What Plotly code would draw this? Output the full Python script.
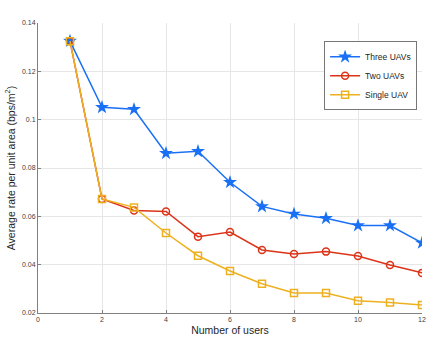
import plotly.graph_objects as go

users = [1, 2, 3, 4, 5, 6, 7, 8, 9, 10, 11, 12]
three_uavs = [0.1325, 0.1051, 0.1043, 0.0861, 0.0869, 0.0741, 0.0641, 0.0610, 0.0592, 0.0562, 0.0562, 0.0490]
two_uavs = [0.1325, 0.0672, 0.0624, 0.0620, 0.0516, 0.0535, 0.0461, 0.0444, 0.0454, 0.0436, 0.0399, 0.0366]
single_uav = [0.1325, 0.0672, 0.0637, 0.0531, 0.0437, 0.0374, 0.0321, 0.0283, 0.0283, 0.0251, 0.0243, 0.0233]

x_ticks = [0, 2, 4, 6, 8, 10, 12]
y_ticks = [0.02, 0.04, 0.06, 0.08, 0.1, 0.12, 0.14]
y_labels = ['0.02', '0.04', '0.06', '0.08', '0.1', '0.12', '0.14']

BLUE = '#1a70f5'
RED = '#dc3418'
YELLOW = '#edb120'

fig = go.Figure()
fig.add_trace(go.Scatter(x=users, y=three_uavs, mode='lines+markers', name='Three UAVs',
                         line=dict(color=BLUE, width=1.5),
                         marker=dict(symbol='star', size=10.5, color=BLUE)))
fig.add_trace(go.Scatter(x=users, y=two_uavs, mode='lines+markers', name='Two UAVs',
                         line=dict(color=RED, width=1.5),
                         marker=dict(symbol='circle-open', size=7, color=RED, line=dict(width=1.5))))
fig.add_trace(go.Scatter(x=users, y=single_uav, mode='lines+markers', name='Single UAV',
                         line=dict(color=YELLOW, width=1.5),
                         marker=dict(symbol='square-open', size=7, color=YELLOW, line=dict(width=1.5))))

fig.update_layout(
    width=443, height=347,
    margin=dict(l=38, r=21, t=23, b=34, autoexpand=False),
    paper_bgcolor='white', plot_bgcolor='white',
    font=dict(family='Liberation Sans, Arial, sans-serif', color='#262626'),
    showlegend=True,
    legend=dict(x=0.745, y=0.937, xanchor='left', yanchor='top',
                bgcolor='white', bordercolor='#777777', borderwidth=1,
                font=dict(size=8.5, color='#262626'),
                itemwidth=30, tracegroupgap=0),
    xaxis=dict(range=[0, 12], tickvals=x_ticks, showgrid=True, gridcolor='#e6e6e6',
               showline=True, linecolor='#808080', linewidth=1,
               ticks='inside', ticklen=3, tickcolor='#808080',
               tickfont=dict(size=7, color='#404040'),
               title=dict(text='Number of users', font=dict(size=10.5, color='#262626'), standoff=4),
               zeroline=False, automargin=False),
    yaxis=dict(range=[0.02, 0.14], tickvals=y_ticks, ticktext=y_labels,
               showgrid=True, gridcolor='#e6e6e6',
               showline=True, linecolor='#808080', linewidth=1,
               ticks='inside', ticklen=3, tickcolor='#808080',
               tickfont=dict(size=7, color='#404040'),
               title=dict(text='Average rate per unit area (bps/m<sup>2</sup>)',
                          font=dict(size=10.5, color='#262626'), standoff=4),
               zeroline=False, automargin=False),
)

# page has a default 8px body margin; drop it so the figure fills the window
fig.write_html("out.html", config={'displayModeBar': False},
               post_script="document.body.style.margin='0';")
